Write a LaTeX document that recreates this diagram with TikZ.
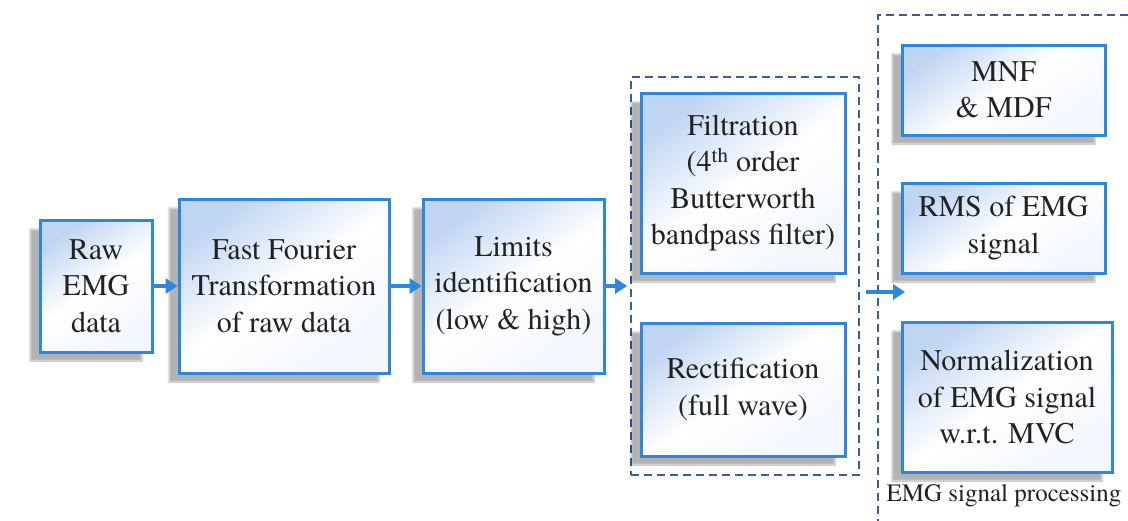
\documentclass[tikz,border=0pt]{standalone}
\usepackage{fontspec}
\newfontfamily\timesfont{texgyretermes}[Extension=.otf, UprightFont=*-regular, BoldFont=*-bold, ItalicFont=*-italic, BoldItalicFont=*-bolditalic]
\usetikzlibrary{arrows.meta,shadows.blur}
\definecolor{boxblue}{HTML}{2E86DE}
\definecolor{fillblue}{HTML}{C0D5F2}
\definecolor{dashblue}{HTML}{3D5C9C}
\definecolor{txt}{HTML}{222222}
\tikzset{
  procbox/.style={draw=boxblue, line width=3pt, top color=fillblue, bottom color=white!80!fillblue, middle color=white, shading angle=35,
    align=center, inner sep=0pt, text=txt, font=\timesfont\fontsize{30}{36.5}\selectfont,
    blur shadow={shadow xshift=-10pt, shadow yshift=-9pt, shadow blur steps=8, shadow opacity=30}},
  groupbox/.style={draw=dashblue, line width=1.6pt, dash pattern=on 8pt off 5pt, inner sep=0pt},
  flow/.style={draw=boxblue, line width=3.2pt, -{Triangle[length=12pt,width=15pt]}},
}
\begin{document}
\begin{tikzpicture}[x=1pt,y=-1pt]
\useasboundingbox (0,0) rectangle (1128,520);
\clip (0,0) rectangle (1128,520);
\node[procbox, minimum width=112pt, minimum height=132pt] (raw) at (96,286) {Raw\\EMG\\data};
\node[procbox, minimum width=210pt, minimum height=174pt] (fft) at (284,286) {Fast Fourier\\Transformation\\of raw data};
\node[procbox, minimum width=181pt, minimum height=174pt] (lim) at (513.5,286) {Limits\\identification\\(low \& high)};
\node[groupbox, minimum width=228pt, minimum height=398pt] (grp1) at (745,276) {};
\node[procbox, minimum width=204pt, minimum height=180pt] (filt) at (743,183) {Filtration\\(4\textsuperscript{th} order\\Butterworth\\bandpass filter)};
\node[procbox, minimum width=204pt, minimum height=133pt] (rect) at (743,389.5) {Rectification\\(full wave)};
\node[groupbox, minimum width=300pt, minimum height=560pt] (grp2) at (1028,295) {};
\node[procbox, minimum width=203pt, minimum height=90pt] (mnf) at (1003.5,90) {MNF\\\& MDF};
\node[procbox, minimum width=203pt, minimum height=90pt] (rms) at (1003.5,228) {RMS of EMG\\signal};
\node[procbox, minimum width=210pt, minimum height=150pt] (norm) at (1007,397) {Normalization\\of EMG signal\\w.r.t. MVC};
\node[text=txt, font=\timesfont\fontsize{25}{29}\selectfont, anchor=center] (lbl) at (1004,496) {EMG signal processing};
\coordinate (a1) at (866,292);
\coordinate (a2) at (905,292);
\draw[flow] (raw.east) -- (fft.west);
\draw[flow] (fft.east) -- (lim.west);
\draw[flow] (lim.east) -- ([xshift=-3pt]grp1.west |- lim.east);
\draw[flow] (a1) -- (a2);
\end{tikzpicture}
\end{document}
